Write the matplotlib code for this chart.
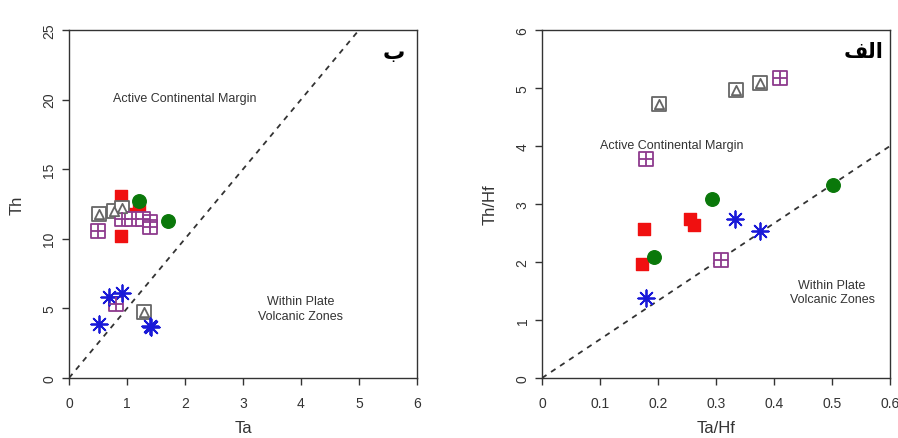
import matplotlib
matplotlib.use("Agg")
import matplotlib.pyplot as plt

plt.rcParams["font.family"] = ["Liberation Sans", "DejaVu Sans"]

# left panel: Ta vs Th
red_ta = [0.9, 0.9, 1.1, 1.2]
red_th = [13.1, 10.2, 11.8, 12.1]
green_ta = [1.2, 1.71]
green_th = [12.7, 11.3]
gray_ta = [0.51, 0.78, 0.92, 1.30]
gray_th = [11.8, 11.97, 12.2, 4.73]
purple_ta = [0.5, 0.81, 0.91, 1.08, 1.28, 1.40, 1.40]
purple_th = [10.58, 5.3, 11.42, 11.42, 11.42, 11.2, 10.83]
blue_ta = [0.51, 0.69, 0.92, 1.42, 1.40]
blue_th = [3.89, 5.8, 6.12, 3.65, 3.7]

# right panel: Ta/Hf vs Th/Hf
red_tahf = [0.176, 0.173, 0.256, 0.262]
red_thhf = [2.57, 1.96, 2.74, 2.63]
green_tahf = [0.193, 0.293, 0.501]
green_thhf = [2.08, 3.09, 3.32]
gray_tahf = [0.201, 0.334, 0.375]
gray_thhf = [4.72, 4.96, 5.08]
purple_tahf = [0.179, 0.308, 0.410]
purple_thhf = [3.78, 2.03, 5.18]
blue_tahf = [0.179, 0.333, 0.376]
blue_thhf = [1.38, 2.75, 2.53]

RED = "#f01010"
GREEN = "#0a780a"
GRAY = "#666666"
PURPLE = "#8e3a8e"
BLUE = "#1a1ad8"
INK = "#333333"


def draw_points(ax, red, green, gray, purple, blue):
    ax.scatter(*red, marker="s", s=75, color=RED, zorder=3)
    ax.scatter(*green, marker="o", s=95, color=GREEN, zorder=3)
    ax.scatter(*gray, marker="s", s=90, facecolor="white", edgecolor=GRAY, lw=1.3, zorder=3)
    ax.scatter(*gray, marker="^", s=45, facecolor="white", edgecolor=GRAY, lw=1.3, zorder=4)
    ax.scatter(*purple, marker="s", s=90, facecolor="white", edgecolor=PURPLE, lw=1.3, zorder=3)
    ax.scatter(*purple, marker="+", s=90, color=PURPLE, lw=1.3, zorder=4)
    ax.scatter(*blue, marker=(8, 2, 0), s=140, color=BLUE, lw=1.3, zorder=3)
    ax.scatter(*blue, marker="o", s=10, color=BLUE, zorder=4)


def style_axes(ax):
    for sp in ax.spines.values():
        sp.set_color(INK)
        sp.set_linewidth(1.0)
    ax.tick_params(direction="out", length=5, width=1, color=INK,
                   labelsize=10, labelcolor=INK)
    ax.tick_params(axis="x", pad=8)
    ax.tick_params(axis="y", pad=4)
    for lab in ax.get_yticklabels():
        lab.set_rotation(90)
        lab.set_va("center")


fig = plt.figure(figsize=(8.98, 4.39), dpi=100)
fig.patch.set_facecolor("white")

ax1 = fig.add_axes([69 / 898, 60 / 439, 348 / 898, 348 / 439])
ax1.plot([0, 5], [0, 25], color=INK, lw=1.3, ls=(0, (3, 3)), zorder=2)
draw_points(ax1, (red_ta, red_th), (green_ta, green_th), (gray_ta, gray_th),
            (purple_ta, purple_th), (blue_ta, blue_th))
ax1.set_xlim(0, 6)
ax1.set_ylim(0, 25)
ax1.set_xticks(range(0, 7))
ax1.set_yticks(range(0, 30, 5))
style_axes(ax1)
ax1.set_xlabel("Ta", fontsize=12, color=INK, labelpad=7)
ax1.set_ylabel("Th", fontsize=12, color=INK, labelpad=13)
ax1.text(2.0, 20.1, "Active Continental Margin", fontsize=9, ha="center", va="center", color=INK)
ax1.text(4.0, 5.0, "Within Plate\nVolcanic Zones", fontsize=9, ha="center", va="center",
         color=INK, linespacing=1.25)
ax1.text(5.6, 23.4, "\uFE8F", fontsize=16, fontweight="bold", ha="center", va="center",
         family=["DejaVu Sans"])

ax2 = fig.add_axes([542 / 898, 60 / 439, 348 / 898, 348 / 439])
ax2.plot([0, 0.6], [0, 4], color=INK, lw=1.3, ls=(0, (3, 3)), zorder=2)
draw_points(ax2, (red_tahf, red_thhf), (green_tahf, green_thhf), (gray_tahf, gray_thhf),
            (purple_tahf, purple_thhf), (blue_tahf, blue_thhf))
ax2.set_xlim(0, 0.6)
ax2.set_ylim(0, 6)
ax2.set_xticks([0, 0.1, 0.2, 0.3, 0.4, 0.5, 0.6])
ax2.set_xticklabels(["0", "0.1", "0.2", "0.3", "0.4", "0.5", "0.6"])
ax2.set_yticks(range(0, 7))
style_axes(ax2)
ax2.set_xlabel("Ta/Hf", fontsize=12, color=INK, labelpad=7)
ax2.set_ylabel("Th/Hf", fontsize=12, color=INK, labelpad=13)
ax2.text(0.224, 4.02, "Active Continental Margin", fontsize=9, ha="center", va="center", color=INK)
ax2.text(0.5, 1.48, "Within Plate\nVolcanic Zones", fontsize=9, ha="center", va="center",
         color=INK, linespacing=1.25)
ax2.text(0.554, 5.64, "\uFED2\uFEDF\uFE8D", fontsize=15, fontweight="bold", ha="center", va="center",
         family=["DejaVu Sans"])

fig.savefig("out.png", dpi=100)
